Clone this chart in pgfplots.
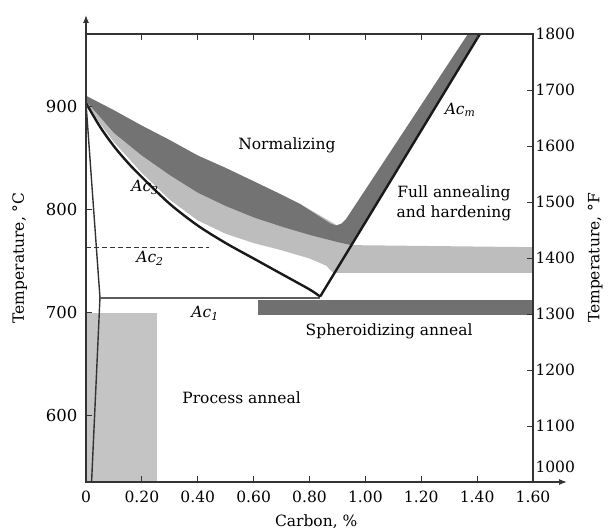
\documentclass[border=0pt]{standalone}
\usepackage{fontspec}
\setmainfont{DejaVu Serif}
\usepackage{pgfplots}
\pgfplotsset{compat=1.18}
\usetikzlibrary{arrows.meta}

\definecolor{bandDark}{gray}{0.45}
\definecolor{bandLight}{gray}{0.74}
\definecolor{rectDark}{gray}{0.44}
\definecolor{rectLight}{gray}{0.77}
\definecolor{lineGray}{gray}{0.2}

\pgfplotsset{
  commonaxis/.style={
    at={(0,0)}, anchor=south west,
    scale only axis, width=447bp, height=448bp,
    xmin=0, xmax=1.6,
    tick align=inside,
    major tick length=6bp,
    axis line style={lineGray, line width=1.3bp},
    tick style={lineGray, line width=1bp},
    /pgf/number format/assume math mode=true,
    /pgf/number format/1000 sep={},
  }
}

\begin{document}
\begin{tikzpicture}[font=\fontsize{15.5bp}{20bp}\selectfont]
\useasboundingbox (-86bp,-50bp) rectangle (523bp,482bp);

% degrees Celsius axis with all the regions
\begin{axis}[
  commonaxis,
  name=main,
  ymin=535, ymax=970,
  axis on top,
  clip=false,
  xtick={0,0.2,...,1.6},
  xticklabels={0,0.20,0.40,0.60,0.80,1.00,1.20,1.40,1.60},
  xticklabel style={yshift=-5bp},
  ytick={600,700,800,900},
  ytick pos=left,
  yticklabel style={xshift=-5bp, font=\fontsize{16.5bp}{20bp}\selectfont},
  xlabel={Carbon, \%},
  ylabel={Temperature, °C},
  xlabel style={at={(axis description cs:0.515,-0.089)}, anchor=center},
  ylabel style={at={(axis description cs:-0.148,0.5)}, anchor=center},
]
% full annealing / hardening band
\addplot[fill=bandLight, draw=none] coordinates {
  (0,910) (0.2,881) (0.4,852) (0.6,827) (0.766,805) (0.9,784) (0.95,765)
  (1.6,763) (1.6,738) (0.885,738) (0.86,745) (0.8,752) (0.7,760) (0.6,767)
  (0.5,776) (0.4,789) (0.3,809) (0.2,835) (0.1,865) (0.05,883) (0,904)
} -- cycle;
% normalizing band
\addplot[fill=bandDark, draw=none] coordinates {
  (0,910) (0.1,896) (0.2,881) (0.3,867) (0.4,852) (0.5,840) (0.6,827)
  (0.7,814) (0.766,805) (0.84,792) (0.875,786) (0.895,784) (0.915,786)
  (0.93,790) (1.367,970) (1.41,970) (0.95,765) (0.9,768) (0.8,775)
  (0.7,783) (0.6,792) (0.5,803) (0.4,816) (0.3,833) (0.2,852) (0.1,874)
  (0,905)
} -- cycle;
% spheroidizing anneal
\addplot[fill=rectDark, draw=none] coordinates {
  (0.615,697) (1.6,697) (1.6,712) (0.615,712)
} -- cycle;
% process anneal
\addplot[fill=rectLight, draw=none] coordinates {
  (0,535) (0.255,535) (0.255,699) (0,699)
} -- cycle;

% thin phase boundaries
\addplot[lineGray, line width=1.4bp] coordinates {(0,903) (0.05,714) (0.02,535)};
\addplot[lineGray!80, line width=1.8bp] coordinates {(0.05,714) (0.838,714)};
\addplot[lineGray, line width=0.9bp, dash pattern=on 5bp off 3bp] coordinates {(0,763) (0.44,763)};

% Ac3 and Acm
\addplot[black!90, line width=2.4bp, smooth] coordinates {
  (0,903) (0.05,880) (0.1,861) (0.15,845) (0.2,831) (0.3,805) (0.4,784)
  (0.5,767) (0.6,752) (0.7,737) (0.8,722) (0.838,715)
};
\addplot[black!90, line width=2.4bp] coordinates {(0.838,715) (1.41,970)};

\node at (axis cs:0.719,862) {Normalizing};
\node at (axis cs:0.211,821) {\textit{Ac}\textsubscript{\itshape 3}};
\node at (axis cs:0.229,752) {\textit{Ac}\textsubscript{\itshape 2}};
\node at (axis cs:0.426,699) {\textit{Ac}\textsubscript{\itshape 1}};
\node at (axis cs:1.339,896) {\textit{Ac}\textsubscript{\itshape m}};
\node[align=center] at (axis cs:1.317,806) {Full annealing\\and hardening};
\node at (axis cs:1.085,681) {Spheroidizing anneal};
\node at (axis cs:0.557,617) {Process anneal};
\end{axis}

% degrees Fahrenheit axis on the right
\begin{axis}[
  commonaxis,
  ymin=1000, ymax=1800,
  axis x line=none,
  axis y line*=right,
  ytick={1100,1200,...,1800},
  extra y ticks={1000},
  extra y tick style={major tick length=0pt, yticklabel style={yshift=15bp}},
  yticklabel style={xshift=-1bp},
  ylabel={Temperature, °F},
  ylabel style={at={(axis description cs:1.139,0.5)}, anchor=center},
]
\end{axis}

\draw[lineGray, line width=1.3bp, -{Latex[length=8bp,width=6bp]}]
  (main.north west) -- ++(0,19bp);
\draw[lineGray, line width=1.3bp, -{Latex[length=8bp,width=6bp]}]
  (main.south east) -- ++(34bp,0);
\end{tikzpicture}
\end{document}
